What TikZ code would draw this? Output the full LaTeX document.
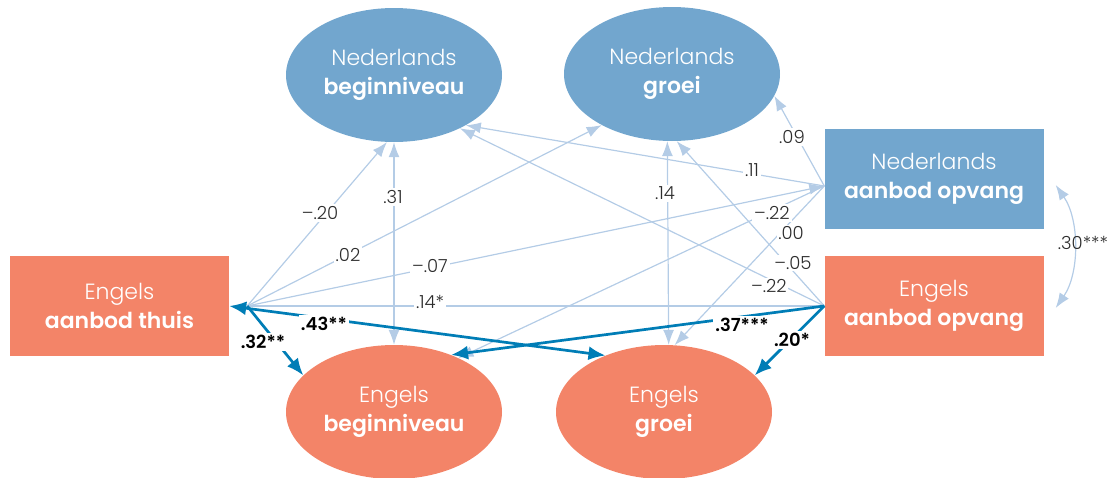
\documentclass[tikz,border=0pt]{standalone}
\usepackage{fontspec}
\setmainfont{Poppins}[UprightFont=* Light, BoldFont=* SemiBold]
\usetikzlibrary{arrows.meta,shapes.geometric}
\definecolor{nlblue}{RGB}{114,166,206}
\definecolor{ensalmon}{RGB}{243,132,104}
\definecolor{lightarr}{RGB}{180,204,230}
\definecolor{darkarr}{RGB}{0,125,182}
\definecolor{lbl}{RGB}{45,45,45}
\begin{document}
\begin{tikzpicture}[x=1pt,y=-1pt,
  ell/.style={ellipse, minimum width=216pt, minimum height=134pt, inner sep=0pt, text=white, align=center, font=\fontsize{22}{29}\selectfont},
  box/.style={rectangle, minimum width=219pt, minimum height=100pt, inner sep=0pt, text=white, align=center, font=\fontsize{22}{29}\selectfont},
  lt/.style={draw=lightarr, line width=1.2pt, -{Latex[length=15pt,width=11pt]}},
  ltd/.style={draw=lightarr, line width=1.2pt, {Latex[length=15pt,width=11pt]}-{Latex[length=15pt,width=11pt]}},
  ltn/.style={draw=lightarr, line width=1.2pt},
  dk/.style={draw=darkarr, line width=2.7pt, -{Latex[length=17pt,width=14pt]}},
  dkd/.style={draw=darkarr, line width=2.7pt, {Latex[length=17pt,width=14pt]}-{Latex[length=17pt,width=14pt]}},
  lab/.style={fill=white, inner sep=2pt, text=lbl, font=\fontsize{18}{18}\selectfont},
  blab/.style={fill=white, inner sep=2pt, text=black, font=\fontsize{18}{18}\selectfont\bfseries}]
\useasboundingbox (0,0) rectangle (1117,477);
% nodes
\node[ell, fill=nlblue] (nlb) at (394,75) {Nederlands\\\textbf{beginniveau}};
\node[ell, fill=nlblue] (nlg) at (672,74) {Nederlands\\\textbf{groei}};
\node[ell, fill=ensalmon] (enb) at (394,412) {Engels\\\textbf{beginniveau}};
\node[ell, fill=ensalmon] (eng) at (664,412) {Engels\\\textbf{groei}};
\node[box, fill=ensalmon] (thu) at (119.5,306) {Engels\\\textbf{aanbod thuis}};
\node[box, fill=nlblue] (nlo) at (934,179) {Nederlands\\\textbf{aanbod opvang}};
\node[box, fill=ensalmon] (eno) at (934,306) {Engels\\\textbf{aanbod opvang}};
\coordinate (thA) at ([xshift=18pt]thu.east);
\coordinate (nloA) at ([yshift=-7pt]nlo.west);
\coordinate (c1) at ([xshift=12pt,yshift=-6pt]nlo.east);
\coordinate (c2) at ([xshift=12pt,yshift=-2pt]eno.east);
% light connectors
\draw[lt] (thA) -- (nlb.264);
\draw[lt] (thA) -- (nlg.216);
\draw[lt] (thA) -- (nloA);
\draw[ltn] (thA) -- (eno.west);
\draw[ltd] (nlb.270) -- (enb.90);
\draw[ltd] (nlg.266.5) -- (eng.86.5);
\draw[lt] (nloA) -- (nlg.348);
\draw[lt] (nloA) -- (nlb.325);
\draw[lt] (nloA) -- (enb.40);
\draw[lt] (nloA) -- (eng.81);
\draw[lt] (eno.west) -- (nlg.274);
\draw[lt] (eno.west) -- (nlb.321);
\draw[ltd] (c1) .. controls +(24,35) and +(24,-35) .. (c2);
% light labels
\node[lab] (l20) at (320,213) {--.20};
\node[lab] (l02) at (348,255) {.02};
\node[lab] (l07) at (430,266) {--.07};
\node[lab] (l14s) at (430,302) {.14*};
\node[lab] (l31) at (393,197) {.31};
\node[lab] (l14) at (665,193) {.14};
\node[lab] (l11) at (752,170) {.11};
\node[lab] (l09) at (792,137) {.09};
\node[lab] (l22a) at (772,213) {--.22};
\node[lab, inner sep=1pt] (l00) at (791,233) {.00};
\node[lab, inner sep=1pt] (l05) at (793,263) {--.05};
\node[lab, inner sep=1pt] (l22b) at (769,286) {--.22};
\node[lab, fill=none] (l30) at (1083,243) {.30***};
% dark connectors
\draw[dkd] (thu.east) -- (eng.136);
\draw[dk] (thA) -- (enb.158);
\draw[dk] (eno.west) -- (enb.45);
\draw[dk] (eno.west) -- (eng.22);
% dark labels
\node[blab] (l43) at (324,324) {.43**};
\node[blab] (l32) at (263,342) {.32**};
\node[blab] (l37) at (742,325) {.37***};
\node[blab] (l20s) at (792,340) {.20*};
\end{tikzpicture}
\end{document}
